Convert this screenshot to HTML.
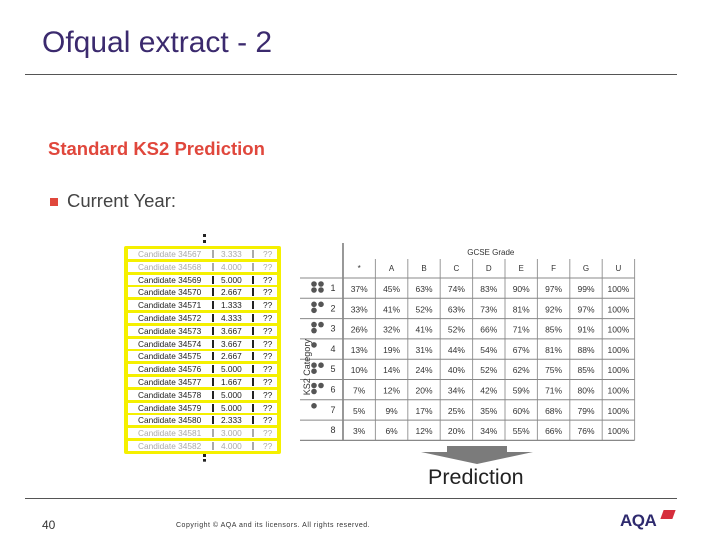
<!DOCTYPE html>
<html><head><meta charset="utf-8"><style>
body{margin:0;width:720px;height:540px;background:#fff;position:relative;overflow:hidden;font-family:"Liberation Sans",sans-serif}
.a{position:absolute;white-space:nowrap}
</style></head><body>
<div class="a" style="left:42px;top:26px;font-size:30px;color:#3b2a6e">Ofqual extract - 2</div>
<div class="a" style="left:25px;top:74px;width:652px;height:1px;background:#555"></div>
<div class="a" style="left:48px;top:138px;font-size:18.5px;font-weight:bold;color:#e0473c">Standard KS2 Prediction</div>
<div class="a" style="left:50px;top:198px;width:8px;height:8px;background:#e0473c"></div>
<div class="a" style="left:67px;top:190px;font-size:18.5px;color:#444">Current Year:</div>
<div class="a" style="left:203px;top:234px;width:3px;height:9px;border-left:3px dotted #222"></div>
<div class="a" style="left:203px;top:454px;width:3px;height:8px;border-left:3px dotted #222"></div>
<div class="a" id="cand" style="left:124px;top:246px;width:157px;height:208px;background:#f5f000;border-radius:2px"></div>
<svg class="a" id="grid" style="left:300px;top:240px" width="340" height="205"></svg>
<svg class="a" style="left:415px;top:444px" width="125" height="22"><polygon points="32,2 92,2 92,8 118,8 62,20 6,8 32,8" fill="#7b7b7b"/></svg>
<div class="a" style="left:428px;top:465px;font-size:21.5px;color:#222">Prediction</div>
<div class="a" style="left:25px;top:498px;width:652px;height:1px;background:#555"></div>
<div class="a" style="left:42px;top:518px;font-size:12px;color:#333">40</div>
<div class="a" style="left:176px;top:522px;font-size:7px;letter-spacing:0.5px;color:#333">Copyright © AQA and its licensors. All rights reserved.</div>
<div class="a" style="left:620px;top:511px;font-size:17px;font-weight:bold;color:#2e2a6e;letter-spacing:-0.5px">AQA</div>
<div class="a" style="left:662px;top:510px;width:12px;height:9px;background:#d62e3c;transform:skewX(-20deg)"></div>
<script>
const candidates=["Candidate 34567","Candidate 34568","Candidate 34569","Candidate 34570","Candidate 34571","Candidate 34572","Candidate 34573","Candidate 34574","Candidate 34575","Candidate 34576","Candidate 34577","Candidate 34578","Candidate 34579","Candidate 34580","Candidate 34581","Candidate 34582"];
const scores=["3.333","4.000","5.000","2.667","1.333","4.333","3.667","3.667","2.667","5.000","1.667","5.000","5.000","2.333","3.000","4.000"];
const grades=["*","A","B","C","D","E","F","G","U"];
const categories=["1","2","3","4","5","6","7","8"];
const row1=[37,45,63,74,83,90,97,99,100];
const row2=[33,41,52,63,73,81,92,97,100];
const row3=[26,32,41,52,66,71,85,91,100];
const row4=[13,19,31,44,54,67,81,88,100];
const row5=[10,14,24,40,52,62,75,85,100];
const row6=[7,12,20,34,42,59,71,80,100];
const row7=[5,9,17,25,35,60,68,79,100];
const row8=[3,6,12,20,34,55,66,76,100];
const rows=[row1,row2,row3,row4,row5,row6,row7,row8];

const cand=document.getElementById('cand');
candidates.forEach((c,i)=>{
  const faded=(i<2||i>13);
  const r=document.createElement('div');
  
  
  r.style.cssText=`position:absolute;left:4px;top:${3+i*12.8}px;width:149px;height:10px;background:#fff;font-size:8.3px;line-height:10px;color:${faded?'#aaa':'#222'}`;
  r.innerHTML=`<span style="position:absolute;left:10px">${c}</span><span style="position:absolute;left:84px;top:1px;width:1.5px;height:8px;background:${faded?'#aaa':'#222'}"></span><span style="position:absolute;left:93px">${scores[i]}</span><span style="position:absolute;left:124px;top:1px;width:1.5px;height:8px;background:${faded?'#aaa':'#222'}"></span><span style="position:absolute;left:135px">??</span>`;
  cand.appendChild(r);
});

const svg=document.getElementById('grid');
const NS='http://www.w3.org/2000/svg';
const x0=43,cw=32.4,y0=38,rh=20.3;
function line(x1,y1,x2,y2,w,c){const l=document.createElementNS(NS,'line');l.setAttribute('x1',x1);l.setAttribute('y1',y1);l.setAttribute('x2',x2);l.setAttribute('y2',y2);l.setAttribute('stroke',c||'#777');l.setAttribute('stroke-width',w||1);svg.appendChild(l);}
function text(x,y,s,size,anchor,name){const t=document.createElementNS(NS,'text');t.setAttribute('x',x);t.setAttribute('y',y);t.setAttribute('font-size',size);t.setAttribute('text-anchor',anchor||'middle');t.setAttribute('fill','#333');t.setAttribute('font-family','Liberation Sans, sans-serif');t.textContent=s;svg.appendChild(t);return t;}
line(x0,3,x0,y0+rows.length*rh,1.2,'#555');
text(x0+cw*4.5+2,15,'GCSE Grade',8,'middle','gcse-grade-header');
grades.forEach((g,j)=>{text(x0+cw*(j+0.5),31,g,8,'middle','grade-header');if(j>0)line(x0+cw*j,19,x0+cw*j,y0+rows.length*rh,1,'#999');});
line(x0+cw*9,19,x0+cw*9,y0+rows.length*rh,1,'#999');
for(let i=0;i<=rows.length;i++)line(0,y0+i*rh,x0+cw*9,y0+i*rh,i==rows.length?1.2:1,'#888');
rows.forEach((r,i)=>{
  text(33,y0+i*rh+13,categories[i],9,'middle','category-label');
  r.forEach((v,j)=>text(x0+cw*(j+0.5),y0+i*rh+14,v+'%',8.5,'middle','cell-value'));
  const n=[4,3,3,1,3,3,1,0][i];
  for(let k=0;k<n;k++){const c=document.createElementNS(NS,'circle');c.setAttribute('cx',14+(k%2)*7);c.setAttribute('cy',y0+i*rh+6+Math.floor(k/2)*6);c.setAttribute('r',2.8);c.setAttribute('fill','#555');svg.appendChild(c);}
});
const yl=text(0,0,'KS2 Category',9,'middle','y-axis-title');
yl.setAttribute('transform',`translate(10,${y0+rows.length*rh/2+8}) rotate(-90)`);
</script>
</body></html>
